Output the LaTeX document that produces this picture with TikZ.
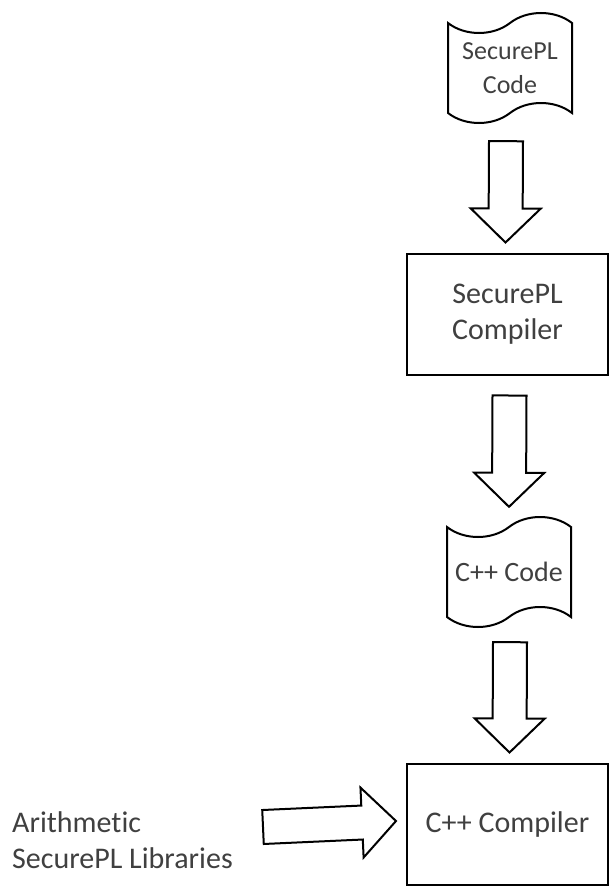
\documentclass[tikz,border=0pt]{standalone}
\usepackage{fontspec}
\setmainfont[Ligatures=NoCommon]{Carlito}
\usetikzlibrary{positioning,calc,shapes.symbols}

\begin{document}
\begin{tikzpicture}[
  x=1pt, y=-1pt,
  every node/.style={font=\fontsize{30}{36}\selectfont, text=black!75},
  doc/.style={draw=black, line width=2pt, tape, align=center, minimum width=124pt, minimum height=110pt, tape bend height=20pt, inner sep=0pt},
  box/.style={draw=black, line width=2pt, align=center, minimum width=201pt, minimum height=121pt},
  fat/.style={draw=black, line width=2pt, line join=miter,
    to path={($(\tikztostart)!17pt!90:(\tikztotarget)$)
      -- ($(\tikztotarget)!34pt!(\tikztostart)!17pt!90:(\tikztotarget)$)
      -- ($(\tikztotarget)!34pt!(\tikztostart)!35pt!90:(\tikztotarget)$)
      -- (\tikztotarget)
      -- ($(\tikztotarget)!34pt!(\tikztostart)!35pt!-90:(\tikztotarget)$)
      -- ($(\tikztotarget)!34pt!(\tikztostart)!17pt!-90:(\tikztotarget)$)
      -- ($(\tikztostart)!17pt!-90:(\tikztotarget)$) -- cycle}}
]
\useasboundingbox (0,0) rectangle (610,886);

% Top to bottom: source, compiler, generated code, compiler
\node[doc, font=\fontsize{26}{34}\selectfont] (spl) at (510,68) {SecurePL\\Code};
\node[box] (splc) at (507.5,314) {SecurePL\\Compiler};
\node[doc, font=\fontsize{28}{34}\selectfont] (cpp) at (509,572) {C++ Code};
\node[box] (cppc) at (507.5,824) {C++ Compiler};

% Libraries fed in from the left
\node[anchor=west, align=left, inner sep=0pt] (lib) at (12,840) {Arithmetic\\SecurePL Libraries};
\coordinate (libin) at (263,827);

% Block arrows
\draw[fat] ([xshift=-4pt,yshift=-27pt]spl.south) to ([xshift=-2pt,yshift=10pt]splc.north);
\draw[fat] ([xshift=2pt,yshift=-20pt]splc.south) to ([yshift=19pt]cpp.north);
\draw[fat] ([xshift=1pt,yshift=-24pt]cpp.south) to ([xshift=2pt,yshift=10pt]cppc.north);
\draw[fat] (libin) to ([xshift=-10pt,yshift=3pt]cppc.west);
\end{tikzpicture}
\end{document}
